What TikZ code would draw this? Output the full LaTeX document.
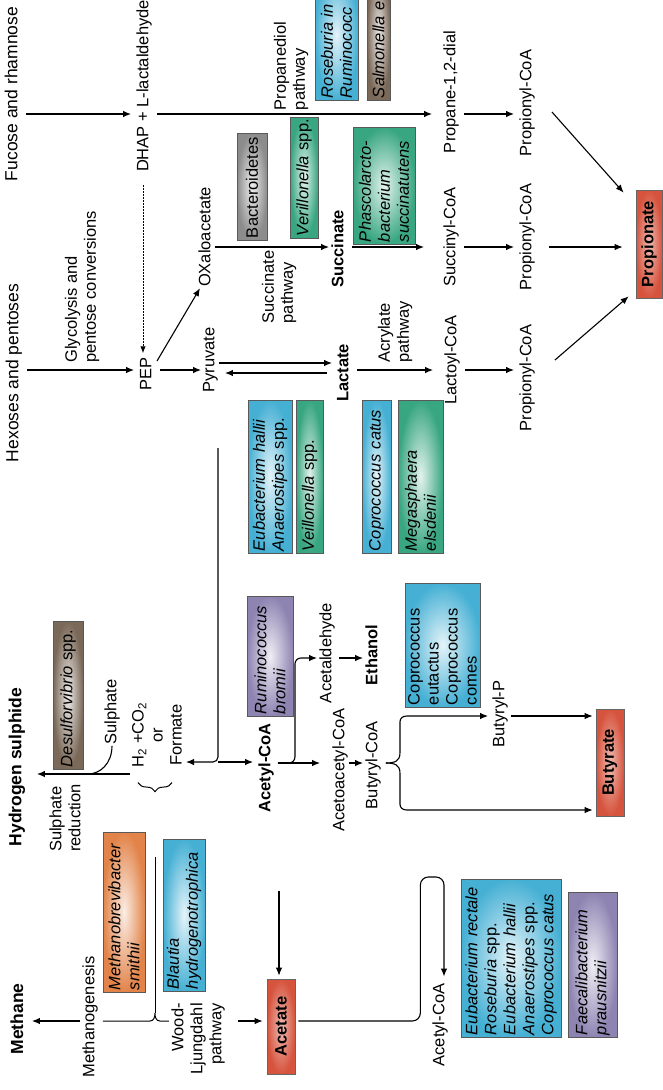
\documentclass[tikz,border=0pt]{standalone}
\usepackage{fontspec}
\setmainfont{Liberation Sans}
\usetikzlibrary{arrows.meta,decorations.pathreplacing}
\newcommand\fsnorm{\fontsize{16.5}{19}\selectfont}
\newcommand\fshead{\fontsize{17.5}{20}\selectfont}
\definecolor{cblue}{RGB}{70,176,212}
\definecolor{cgreen}{RGB}{56,166,128}
\definecolor{cgray}{RGB}{140,140,140}
\definecolor{cbrown}{RGB}{122,104,88}
\definecolor{cpurple}{RGB}{142,132,178}
\definecolor{corange}{RGB}{226,132,74}
\definecolor{cred}{RGB}{214,84,62}
\begin{document}
\begin{tikzpicture}[x=1pt,y=-1pt,
  every node/.style={font=\fsnorm},
  lbl/.style={rotate=90, inner sep=1pt, text height=12pt, text depth=3.5pt},
  mlbl/.style={rotate=90, inner sep=1pt, align=left},
  box/.style={rotate=90, draw=black!65, line width=0.7pt, inner color=#1!14!white,
    outer color=#1, inner xsep=2pt, inner ysep=1pt, align=left},
  bx/.style n args={4}{box=#1, minimum width=#2, minimum height=#3, text width=#4},
  redbox/.style n args={2}{rotate=90, draw=black!60, line width=0.7pt,
    inner color=cred!40!white, outer color=cred, minimum width=#1, minimum height=#2,
    inner sep=0pt, font=\fsnorm\bfseries},
  ln/.style={line width=1.1pt},
  arr/.style={ln, -{Latex[length=8pt,width=6.5pt]}, shorten <=4pt, shorten >=4pt},
  dotarr/.style={line width=1pt, dash pattern=on 1.5pt off 1.5pt,
    -{Latex[length=7pt,width=5.5pt]}, shorten <=12pt, shorten >=3pt},
]
\useasboundingbox (0,0) rectangle (662,1090);

% ---------- substrates and intermediates ----------
\node[lbl, font=\fshead] (fuc) at (13,94) {Fucose and rhamnose};
\node[lbl] (dhap) at (144,86) {DHAP + L-lactaldehyde};
\node[lbl, font=\fshead] (hex) at (14,373) {Hexoses and pentoses};
\node[mlbl] (gly) at (82,287) {Glycolysis and\\pentose conversions};
\node[lbl] (pep) at (147,374) {PEP};
\node[lbl] (pyr) at (210,360) {Pyruvate};
\node[lbl] (oxa) at (206,237) {OXaloacetate};
\node[lbl, font=\fsnorm\bfseries] (succ) at (339,249) {Succinate};
\node[mlbl] (sucp) at (279,287) {Succinate\\pathway};
\node[mlbl] (prdp) at (291,66) {Propanediol\\pathway};
\node[lbl, font=\fsnorm\bfseries] (lac) at (344,373) {Lactate};
\node[mlbl] (acr) at (395,332) {Acrylate\\pathway};
\node[lbl] (prd) at (451,92) {Propane-1,2-dial};
\node[lbl] (sucoa) at (451,237) {Succinyl-CoA};
\node[lbl] (lacoa) at (452,360) {Lactoyl-CoA};
\node[lbl] (pc1) at (527,103) {Propionyl-CoA};
\node[lbl] (pc2) at (527,237) {Propionyl-CoA};
\node[lbl] (pc3) at (527,378) {Propionyl-CoA};

\node[lbl, font=\fsnorm\bfseries] (acco) at (266,768) {Acetyl-CoA};
\node[lbl] (acald) at (327,653) {Acetaldehyde};
\node[lbl, font=\fsnorm\bfseries] (eth) at (373,655) {Ethanol};
\node[lbl] (acac) at (340,770) {Acetoacetyl-CoA};
\node[lbl] (bucoa) at (373,765) {Butyryl-CoA};
\node[lbl] (bup) at (500,714) {Butyryl-P};

\node[rotate=90, inner sep=1pt, align=center] (form) at (157,735)
  {H\textsubscript{2} +CO\textsubscript{2}\\or\\Formate};
\node[lbl] (sulph) at (112,712) {Sulphate};
\node[lbl, font=\fshead\bfseries] (h2s) at (17,767) {Hydrogen sulphide};
\node[mlbl] (sred) at (65,818) {Sulphate\\reduction};
\node[lbl, font=\fshead\bfseries] (mth) at (19,1019) {Methane};
\node[lbl] (mgen) at (90,1017) {Methanogenesis};
\node[rotate=90, inner sep=1pt, align=right] (wl) at (198,1039) {Wood-\\Ljungdahl\\pathway};
\node[lbl] (acoa2) at (440,1025) {Acetyl-CoA};

% ---------- products ----------
\node[redbox={108pt}{26pt}] (prop) at (649,244) {Propionate};
\node[redbox={107pt}{28pt}] (butyr) at (610,762.5) {Butyrate};
\node[redbox={95pt}{28pt}] (acet) at (281,1026.5) {Acetate};

% ---------- organisms ----------
\node[bx={cgray}{107pt}{30pt}{103pt}] (bact) at (252,186.5) {Bacteroidetes};
\node[bx={cgreen}{121pt}{28pt}{117pt}] (veri) at (304,177.5) {\textit{Verillonella} spp.};
\node[bx={cblue}{130pt}{43pt}{126pt}] (rose) at (336.5,35) {\textit{Roseburia in}\\\textit{Ruminococc}};
\node[bx={cbrown}{130pt}{23pt}{126pt}] (salm) at (378.5,35) {\textit{Salmonella e}};
\node[bx={cgreen}{117pt}{62pt}{113pt}] (phas) at (384,185.5)
  {\textit{Phascolarcto-}\\\textit{bacterium}\\\textit{succinatutens}};
\node[bx={cblue}{153pt}{44pt}{149pt}] (eub1) at (270,476.5)
  {\textit{Eubacterium hallii}\\\textit{Anaerostipes} spp.};
\node[bx={cgreen}{153pt}{27pt}{149pt}] (veil) at (309.5,476.5) {\textit{Veillonella} spp.};
\node[bx={cblue}{153pt}{29pt}{149pt}] (copc) at (376.5,476.5) {\textit{Coprococcus catus}};
\node[bx={cgreen}{153pt}{45pt}{149pt}] (mega) at (420.5,476.5) {\textit{Megasphaera}\\\textit{elsdenii}};
\node[bx={cpurple}{120pt}{46pt}{116pt}] (rumb) at (270,656) {\textit{Ruminococcus}\\\textit{bromii}};
\node[bx={cblue}{124pt}{75pt}{120pt}] (copr) at (442.5,645)
  {Coprococcus\\eutactus\\Coprococcus\\comes};
\node[bx={cbrown}{148pt}{30pt}{144pt}] (desu) at (68,695) {\textit{Desulforvibrio} spp.};
\node[bx={corange}{160pt}{42pt}{156pt}] (mbb) at (124,912) {\textit{Methanobrevibacter}\\\textit{smithii}};
\node[bx={cblue}{152pt}{42pt}{148pt}] (blau) at (184,915) {\textit{Blautia}\\\textit{hydrogenotrophica}};
\node[bx={cblue}{158pt}{100pt}{154pt}] (eub5) at (511,958)
  {\textit{Eubacterium rectale}\\\textit{Roseburia} spp.\\\textit{Eubacterium hallii}\\%
   \textit{Anaerostipes} spp.\\\textit{Coprococcus catus}};
\node[bx={cpurple}{145pt}{49pt}{141pt}] (faec) at (592.5,964.5)
  {\textit{Faecalibacterium}\\\textit{prausnitzii}};

% ---------- rows and junctions ----------
\coordinate (r1) at (0,114);
\coordinate (r2) at (0,247);
\coordinate (r3) at (0,370);
\coordinate (r3a) at (0,363);
\coordinate (r3b) at (0,373);
\coordinate (r4) at (0,763);
\coordinate (r5) at (0,658);
\coordinate (r6) at (0,716);
\coordinate (r7) at (0,810);
\coordinate (r8) at (0,774);
\coordinate (r9) at (0,1021);
\coordinate (pv) at (218,448);
\coordinate (jn) at (218,762);
\coordinate (mv) at (155,857);
\coordinate (av) at (279,891);

% ---------- propanediol route ----------
\draw[arr] (fuc.south |- r1) -- (dhap.north |- r1);
\draw[arr, shorten >=10pt] (dhap.south |- r1) -- (prd.north |- r1);
\draw[arr] (prd.south |- r1) -- (pc1.north |- r1);
\draw[arr, shorten <=0pt, shorten >=0pt] ([shift={(16,9)}]pc1.south) -- ([shift={(-12,3)}]prop.north east);
\draw[dotarr] ([xshift=-1pt]dhap.west) -- ([xshift=-1pt]dhap.west |- pep.east);

% ---------- succinate route ----------
\draw[arr, shorten <=0pt, shorten >=0pt] ([shift={(10,-13)}]pep.center) -- ([xshift=-6pt]oxa.west);
\draw[arr, shorten <=0pt, shorten >=1pt] (oxa.south |- r2) -- (succ.north |- r2);
\draw[arr, shorten >=18pt] (succ.south |- r2) -- (sucoa.north |- r2);
\draw[arr] (sucoa.south |- r2) -- (pc2.north |- r2);
\draw[arr, shorten <=13pt, shorten >=13pt] (pc2.south |- r2) -- (prop.north |- r2);

% ---------- acrylate route ----------
\draw[arr] (hex.south |- r3) -- (pep.north |- r3);
\draw[arr, shorten >=0pt] (pep.south |- r3) -- (pyr.north |- r3);
\draw[arr, shorten <=0pt, shorten >=3pt] (pyr.south |- r3a) -- (lac.north |- r3a);
\draw[arr, shorten <=8pt, shorten >=6pt] (lac.north |- r3b) -- (pyr.south |- r3b);
\draw[arr, shorten >=10pt] (lac.south |- r3) -- (lacoa.north |- r3);
\draw[arr] (lacoa.south |- r3) -- (pc3.north |- r3);
\draw[arr, shorten <=0pt, shorten >=0pt] ([shift={(19,-18)}]pc3.south) -- ([shift={(-7,-2)}]prop.north west);

% ---------- acetyl-CoA, ethanol and butyrate ----------
\draw[arr, shorten <=0pt, shorten >=3pt, rounded corners=5pt] (pv) -- (jn) -- (form.south |- jn);
\draw[arr, shorten <=0pt] (jn) -- (acco.north |- jn);
\draw[arr, shorten <=3pt, shorten >=11pt] (acco.south |- r4) -- (acac.north |- r4);
\draw[arr, shorten <=3pt, shorten >=1pt, rounded corners=6pt] (acco.south |- r4) -- ++(20,0) |- (acald.north |- r5);
\draw[arr, shorten <=3pt, shorten >=1pt] (acald.south |- r5) -- (eth.north |- r5);
\draw[arr, shorten <=0pt, shorten >=1pt] (acac.south |- r4) -- (bucoa.north |- r4);
\draw[arr, shorten <=0pt, shorten >=3pt] ([xshift=4pt]bucoa.south |- r4)
  .. controls +(9,0) and +(0,8) .. ++(14,-10) -- ++(0,-31)
  .. controls +(0,-4) and +(-4,0) .. ++(7,-6) -- (bup.north |- r6);
\draw[arr, shorten <=0pt, shorten >=3pt] ([xshift=4pt]bucoa.south |- r4)
  .. controls +(9,0) and +(0,-8) .. ++(14,10) -- ++(0,31)
  .. controls +(0,4) and +(-4,0) .. ++(7,6) -- (butyr.north |- r7);
\draw[arr, shorten <=2pt, shorten >=3pt] (bup.south |- r6) -- (butyr.north |- r6);

% ---------- hydrogen sulphide ----------
\draw[arr, shorten <=1pt, shorten >=11pt] (form.north |- r8) -- (h2s.south |- r8);
\draw[ln] (sulph.west) .. controls +(0,18) and +(12,0) .. ([xshift=-24pt]sulph.west |- r8);
\draw[line width=1pt, decorate, decoration={brace, amplitude=9pt}]
  ([shift={(15,14)}]form.west) -- ([shift={(-19,14)}]form.west);

% ---------- methane and acetate ----------
\draw[line width=1pt] (mv) -- ++(0,156);
\draw[line width=1pt] ([xshift=4pt]mgen.south |- r9) -- ++(47,0)
  .. controls +(4,0) and +(0,4) .. ++(5,-8)
  .. controls +(0,4) and +(-4,0) .. ++(5,8) -- ++(9,0);
\draw[arr, shorten <=1pt] (mgen.north |- r9) -- (mth.south |- r9);
\draw[arr, shorten <=12pt] (wl.south |- r9) -- (acet.north |- r9);
\draw[arr, shorten <=0pt, shorten >=3pt] (av) -- (av |- acet.east);
\draw[arr, shorten <=3pt, shorten >=6pt, rounded corners=8pt] (acet.south |- r9)
  -- ++(125,0) -- ++(0,-144) -| ([xshift=4pt]acoa2.east);
\end{tikzpicture}
\end{document}
